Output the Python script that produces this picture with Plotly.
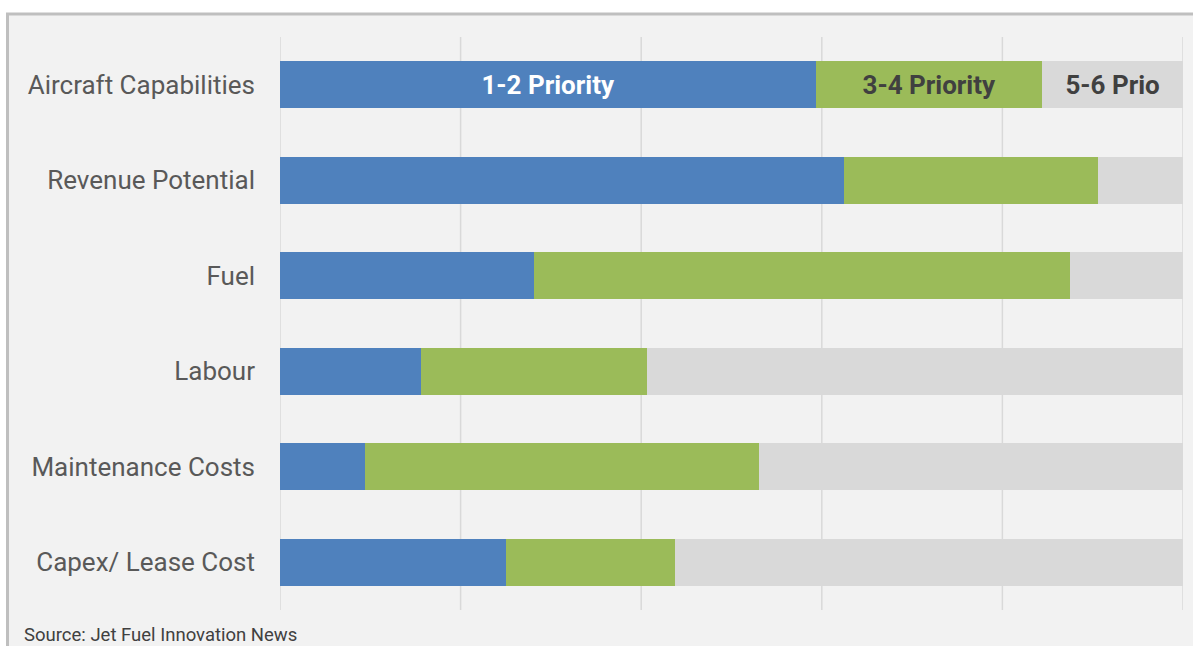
import plotly.graph_objects as go

categories = ["Aircraft Capabilities", "Revenue Potential", "Fuel", "Labour",
              "Maintenance Costs", "Capex/ Lease Cost"]
p12 = [59.4, 62.5, 28.1, 15.6, 9.4, 25.0]
p34 = [25.0, 28.1, 59.4, 25.0, 43.7, 18.7]
p56 = [15.6, 9.4, 12.5, 59.4, 46.9, 56.3]
series_names = ["1-2 Priority", "3-4 Priority", "5-6 Prio"]
grid_ticks = [0, 20, 40, 60, 80, 100]

W, H = 1193, 646
ml, mr, mt, mb = 280, 10, 37, 36
pw, ph = W - ml - mr, H - mt - mb

def px_x(x):
    return (x - ml) / pw

def px_y(y):
    return (H - mb - y) / ph

colors = ["#4f81bd", "#9bbb59", "#d9d9d9"]
text_colors = ["#ffffff", "#404040", "#404040"]

fig = go.Figure()
for name, vals, c, tc in zip(series_names, [p12, p34, p56], colors, text_colors):
    fig.add_trace(go.Bar(
        y=categories, x=vals, orientation="h", name=name,
        marker=dict(color=c, line=dict(width=0)),
        text=[name] + [""] * (len(categories) - 1),
        textposition="inside", insidetextanchor="middle",
        textfont=dict(family="Roboto", size=26, color=tc, weight="bold"),
        hoverinfo="skip",
    ))

fig.add_shape(type="rect", xref="paper", yref="paper",
              x0=px_x(7.5), x1=px_x(1220), y0=px_y(14), y1=px_y(700),
              fillcolor="#f2f2f2", line=dict(color="#bfbfbf", width=3),
              layer="below")
for gx in grid_ticks:
    fig.add_shape(type="line", xref="x", yref="paper", x0=gx, x1=gx, y0=0, y1=1,
                  line=dict(color="#d9d9d9", width=1.5), layer="below")

fig.add_annotation(text="Source: Jet Fuel Innovation News", xref="paper", yref="paper",
                   x=px_x(22), y=px_y(635), xanchor="left", yanchor="middle",
                   showarrow=False, font=dict(family="Roboto", size=18.5, color="#404040"))

fig.update_layout(
    width=W, height=H, barmode="stack", bargap=0.51,
    margin=dict(l=ml, r=mr, t=mt, b=mb),
    paper_bgcolor="#ffffff", plot_bgcolor="rgba(0,0,0,0)",
    showlegend=False,
    font=dict(family="Roboto", color="#595959"),
)
fig.update_xaxes(range=[0, 100], showticklabels=False, showgrid=False,
                 zeroline=False, showline=False, fixedrange=True)
fig.update_yaxes(autorange="reversed", showgrid=False, showline=False, ticks="",
                 ticklabelstandoff=24, tickfont=dict(family="Roboto", size=26, color="#595959"),
                 fixedrange=True)

fig.write_html("out.html", config={"displayModeBar": False})
